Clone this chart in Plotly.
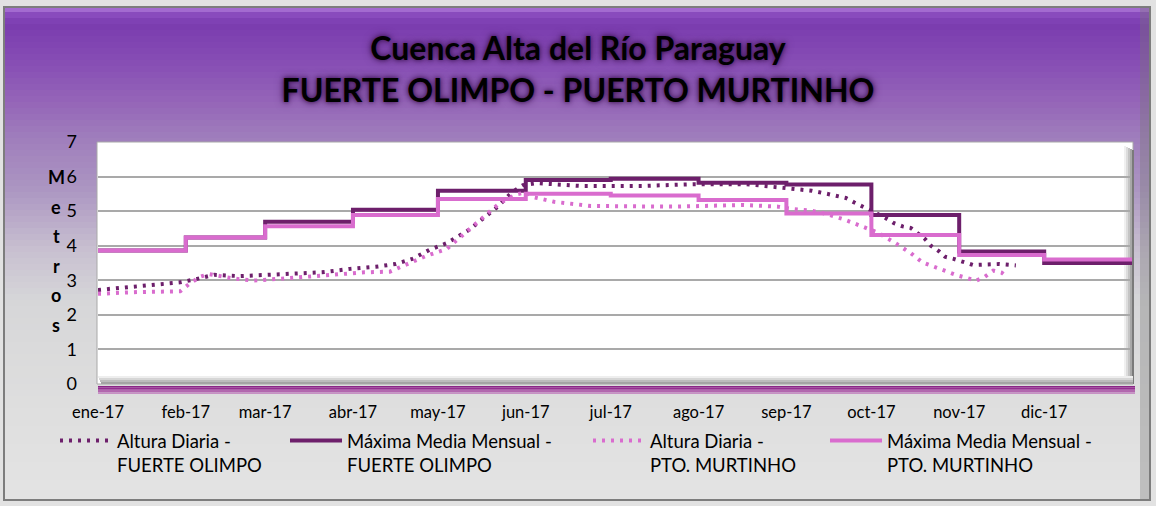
import plotly.graph_objects as go

# ---------------- data ----------------
months = ["2017-01-01", "2017-02-01", "2017-03-01", "2017-04-01", "2017-05-01", "2017-06-01",
          "2017-07-01", "2017-08-01", "2017-09-01", "2017-10-01", "2017-11-01", "2017-12-01"]
month_labels = ["ene-17", "feb-17", "mar-17", "abr-17", "may-17", "jun-17",
                "jul-17", "ago-17", "sep-17", "oct-17", "nov-17", "dic-17"]
range_end = "2018-01-01"

max_fo = [3.86, 4.24, 4.69, 5.04, 5.59, 5.90, 5.94, 5.82, 5.77, 4.89, 3.83, 3.50]
max_pm = [3.86, 4.24, 4.56, 4.89, 5.35, 5.50, 5.45, 5.32, 4.93, 4.31, 3.73, 3.60]

fo_dates = ["2017-01-01", "2017-01-15", "2017-01-30", "2017-02-05", "2017-02-11", "2017-02-20",
            "2017-03-05", "2017-03-21", "2017-03-31", "2017-04-09", "2017-04-16", "2017-04-22",
            "2017-04-28", "2017-05-04", "2017-05-12", "2017-05-22", "2017-05-27", "2017-05-31",
            "2017-06-05", "2017-06-20", "2017-07-13", "2017-07-30", "2017-08-18", "2017-09-03",
            "2017-09-10", "2017-09-16", "2017-09-22", "2017-09-25", "2017-09-28", "2017-10-01",
            "2017-10-06", "2017-10-09", "2017-10-12", "2017-10-15", "2017-10-20", "2017-10-22",
            "2017-10-25", "2017-10-27", "2017-10-30", "2017-11-03", "2017-11-06", "2017-11-15",
            "2017-11-21"]
fo_vals = [2.72, 2.83, 2.94, 3.04, 3.16, 3.12,
           3.18, 3.23, 3.33, 3.39, 3.47, 3.62,
           3.88, 4.07, 4.46, 5.12, 5.54, 5.75,
           5.81, 5.73, 5.73, 5.78, 5.78, 5.64,
           5.59, 5.49, 5.38, 5.25, 5.14, 5.01,
           4.80, 4.65, 4.56, 4.51, 4.19, 4.00,
           3.83, 3.68, 3.62, 3.52, 3.44, 3.47,
           3.43]

pm_dates = ["2017-01-01", "2017-01-15", "2017-01-30", "2017-02-02", "2017-02-06", "2017-02-09",
            "2017-02-18", "2017-02-25", "2017-03-12", "2017-04-05", "2017-04-14", "2017-04-21",
            "2017-04-27", "2017-05-04", "2017-05-09", "2017-05-16", "2017-05-23", "2017-05-29",
            "2017-06-01", "2017-06-04", "2017-06-11", "2017-06-24", "2017-07-24", "2017-08-17",
            "2017-08-29", "2017-09-03", "2017-09-10", "2017-09-15", "2017-09-21", "2017-09-28",
            "2017-10-03", "2017-10-09", "2017-10-15", "2017-10-19", "2017-10-25", "2017-10-31",
            "2017-11-07", "2017-11-10", "2017-11-13", "2017-11-16", "2017-11-18"]
pm_vals = [2.61, 2.66, 2.68, 2.88, 3.10, 3.18,
           3.05, 2.99, 3.08, 3.23, 3.25, 3.50,
           3.71, 3.90, 4.26, 4.77, 5.25, 5.49,
           5.54, 5.40, 5.27, 5.15, 5.13, 5.18,
           5.13, 5.06, 5.01, 4.92, 4.77, 4.55,
           4.39, 4.10, 3.78, 3.52, 3.33, 3.15,
           2.99, 3.10, 3.28, 3.22, 3.09]

names = ["Altura Diaria -<br>FUERTE OLIMPO", "Máxima Media Mensual -<br>FUERTE OLIMPO",
         "Altura Diaria -<br>PTO. MURTINHO", "Máxima Media Mensual -<br>PTO. MURTINHO"]
title_lines = ["Cuenca Alta del Río Paraguay", "FUERTE OLIMPO - PUERTO MURTINHO"]
y_title = "Metros"

# ---------------- styling / geometry ----------------
DARK = "#6d1f6b"
PINK = "#d96cce"
W, H = 1156, 506
L, R, T, B = 98, 1132, 142, 384
FONT = "Lato"


def px2x(p):
    return (p - L) / (R - L)


def py2y(p):
    return (B - p) / (B - T)


fig = go.Figure()

fig.add_trace(go.Scatter(x=fo_dates, y=fo_vals, mode="lines", name=names[0],
                         line=dict(color=DARK, width=4, dash="3px,6px"), legend="legend"))
fig.add_trace(go.Scatter(x=months + [range_end], y=max_fo + [max_fo[-1]], mode="lines",
                         name=names[1], line=dict(color=DARK, width=4, shape="hv"),
                         legend="legend2"))
fig.add_trace(go.Scatter(x=pm_dates, y=pm_vals, mode="lines", name=names[2],
                         line=dict(color=PINK, width=4, dash="3px,6px"), legend="legend3"))
fig.add_trace(go.Scatter(x=months + [range_end], y=max_pm + [max_pm[-1]], mode="lines",
                         name=names[3], line=dict(color=PINK, width=4, shape="hv"),
                         legend="legend4"))

# ---- background gradient (vertical) ----
stops = [(6, (180, 128, 220)), (13, (140, 78, 192)), (24, (122, 60, 175)), (60, (134, 76, 180)),
         (100, (148, 100, 184)), (140, (160, 127, 188)), (190, (172, 150, 194)),
         (250, (200, 192, 208)), (300, (214, 214, 216)), (400, (222, 222, 222)), (506, (228, 228, 228))]


def col_at(p):
    for (p0, c0), (p1, c1) in zip(stops[:-1], stops[1:]):
        if p0 <= p <= p1:
            t = (p - p0) / (p1 - p0)
            return "rgb(%d,%d,%d)" % tuple(int(round(a + (b - a) * t)) for a, b in zip(c0, c1))
    return "rgb(228,228,228)"


shapes = []
step = 6
p = 6
while p < 500:
    shapes.append(dict(type="rect", xref="paper", yref="paper", layer="below",
                       x0=px2x(5), x1=px2x(1150), y0=py2y(min(p + step + 1, 500)), y1=py2y(p),
                       fillcolor=col_at(p + step / 2), line=dict(width=0)))
    p += step

# outer frame
shapes.append(dict(type="rect", xref="paper", yref="paper", layer="below",
                   x0=px2x(4), x1=px2x(1150), y0=py2y(500), y1=py2y(7),
                   line=dict(color="#7d7d7d", width=2), fillcolor="rgba(0,0,0,0)"))
shapes.append(dict(type="rect", xref="paper", yref="paper", layer="below",
                   x0=px2x(1140), x1=px2x(1150), y0=py2y(500), y1=py2y(7),
                   line=dict(width=0), fillcolor="rgba(120,120,120,0.35)"))
# white plot area
shapes.append(dict(type="rect", xref="paper", yref="paper", layer="below",
                   x0=px2x(97), x1=px2x(1133), y0=py2y(384), y1=py2y(142),
                   fillcolor="white", line=dict(color="#a8a8a8", width=1)))
# right bevel
for i, c in enumerate(["#f0f0f0", "#dcdcdc", "#c4c4c4", "#a8a8a8", "#7a7a7a"]):
    shapes.append(dict(type="rect", xref="paper", yref="paper", layer="below",
                       x0=px2x(1124 + 2 * i), x1=px2x(1126 + 2 * i), y0=py2y(384), y1=py2y(146 + i),
                       fillcolor=c, line=dict(width=0)))
# bottom bevel
for i, c in enumerate(["#eeeeee", "#d6d6d6", "#bcbcbc", "#a4a4a4"]):
    shapes.append(dict(type="rect", xref="paper", yref="paper", layer="below",
                       x0=px2x(98 + i), x1=px2x(1133), y0=py2y(378 + 2 * i), y1=py2y(376 + 2 * i),
                       fillcolor=c, line=dict(width=0)))
# purple floor
for i, c in enumerate(["#8a2586", "#952f91", "#a2459e", "#b266ae", "#c690c3"]):
    shapes.append(dict(type="rect", xref="paper", yref="paper", layer="below",
                       x0=px2x(98), x1=px2x(1135), y0=py2y(386 + 1.6 * (i + 1)), y1=py2y(386 + 1.6 * i),
                       fillcolor=c, line=dict(width=0)))

# y-axis title: stacked letters
annotations = []
letter_y0, letter_step = 177, 29.6
for i, ch in enumerate(y_title):
    annotations.append(dict(text="<b>%s</b>" % ch, xref="paper", yref="paper",
                            x=px2x(56), y=py2y(letter_y0 + i * letter_step),
                            xanchor="center", yanchor="middle", showarrow=False,
                            font=dict(family=FONT, size=18, color="black")))

legend_common = dict(orientation="h", xanchor="left", yanchor="top", valign="top",
                     bgcolor="rgba(0,0,0,0)", borderwidth=0, itemwidth=52,
                     font=dict(family=FONT, size=18.5, color="black"), y=py2y(422))

fig.update_layout(
    width=W, height=H,
    margin=dict(l=L, r=W - R, t=T, b=H - B, pad=0),
    paper_bgcolor="#e2e2e2",
    plot_bgcolor="rgba(0,0,0,0)",
    showlegend=True,
    title=dict(text="<br>".join(title_lines), x=0.5, xanchor="center",
               y=1 - 60 / H, yanchor="middle",
               font=dict(family=FONT, size=32, color="black", weight="bold",
                         shadow="0px 0px 4px #3b1352, 0px 0px 8px #4b1d62")),
    xaxis=dict(type="date", range=[months[0], range_end], tickvals=months, ticktext=month_labels,
               showgrid=False, zeroline=False, showline=False, ticks="",
               tickfont=dict(family=FONT, size=16.5, color="black"), ticklabelstandoff=16,
               fixedrange=True),
    yaxis=dict(range=[0, 7], dtick=1, tick0=0, showgrid=True, gridcolor="#a9a9a9", gridwidth=1.5,
               zeroline=False, showline=False, ticks="",
               tickfont=dict(family=FONT, size=18, color="black"), ticklabelstandoff=20,
               fixedrange=True),
    shapes=shapes,
    annotations=annotations,
    legend=dict(legend_common, x=px2x(55)),
    legend2=dict(legend_common, x=px2x(285)),
    legend3=dict(legend_common, x=px2x(588)),
    legend4=dict(legend_common, x=px2x(825)),
)

fig.write_html("out.html", config={"displayModeBar": False},
               post_script="document.body.style.margin='0';")
